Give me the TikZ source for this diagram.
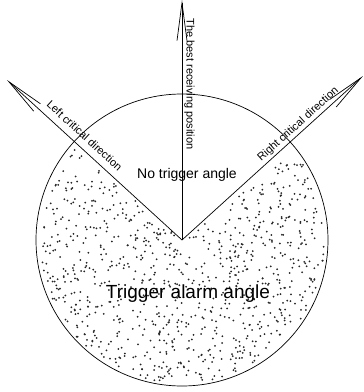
\documentclass[tikz,border=0pt]{standalone}
\usepackage{fontspec}
\setmainfont{Liberation Sans}
\usetikzlibrary{arrows.meta,positioning,calc}

\begin{document}
\begin{tikzpicture}[
  x=1pt, y=1pt,
  dirline/.style={-{Straight Barb[length=38pt, width=10pt]}, line width=0.7pt},
  dirlabel/.style={font=\fontsize{11}{12}\selectfont, inner sep=2pt},
  dot/.style={fill=black!85},
]
\useasboundingbox (-182,-152) rectangle (182,240);

% 中心と方向
\coordinate (O) at (0,0);
\coordinate (T) at (0,240);
\coordinate (L) at (-175,160);
\coordinate (R) at (181,164);

% 点描（警報角）
\pgfmathsetseed{4711}
\foreach \i in {1,...,900}{
  \pgfmathsetmacro\rr{143*sqrt(rnd)}
  \pgfmathsetmacro\aa{140+258*rnd}
  \fill[dot] (\aa:\rr) circle (1.0);
}

% 円
\draw[line width=0.7pt] (O) circle (146);

% 矢印
\draw[dirline] (O) -- node[pos=0.65, rotate=-90, anchor=south, dirlabel] {The best receiving position} (T);
\draw[dirline, {Straight Barb[length=38pt, width=10pt]}-] (L) -- node[pos=0.4, sloped, above=5pt, dirlabel] {Left critical direction} (O);
\draw[dirline] (O) -- node[pos=0.67, sloped, above, dirlabel] {Right critical direction} (R);

% 文字
\node[font=\fontsize{14}{16}\selectfont] (none) at (5,65) {No trigger angle};
\node[font=\fontsize{19}{22}\selectfont] (alarm) at (6,-54) {Trigger alarm angle};

\end{tikzpicture}
\end{document}
